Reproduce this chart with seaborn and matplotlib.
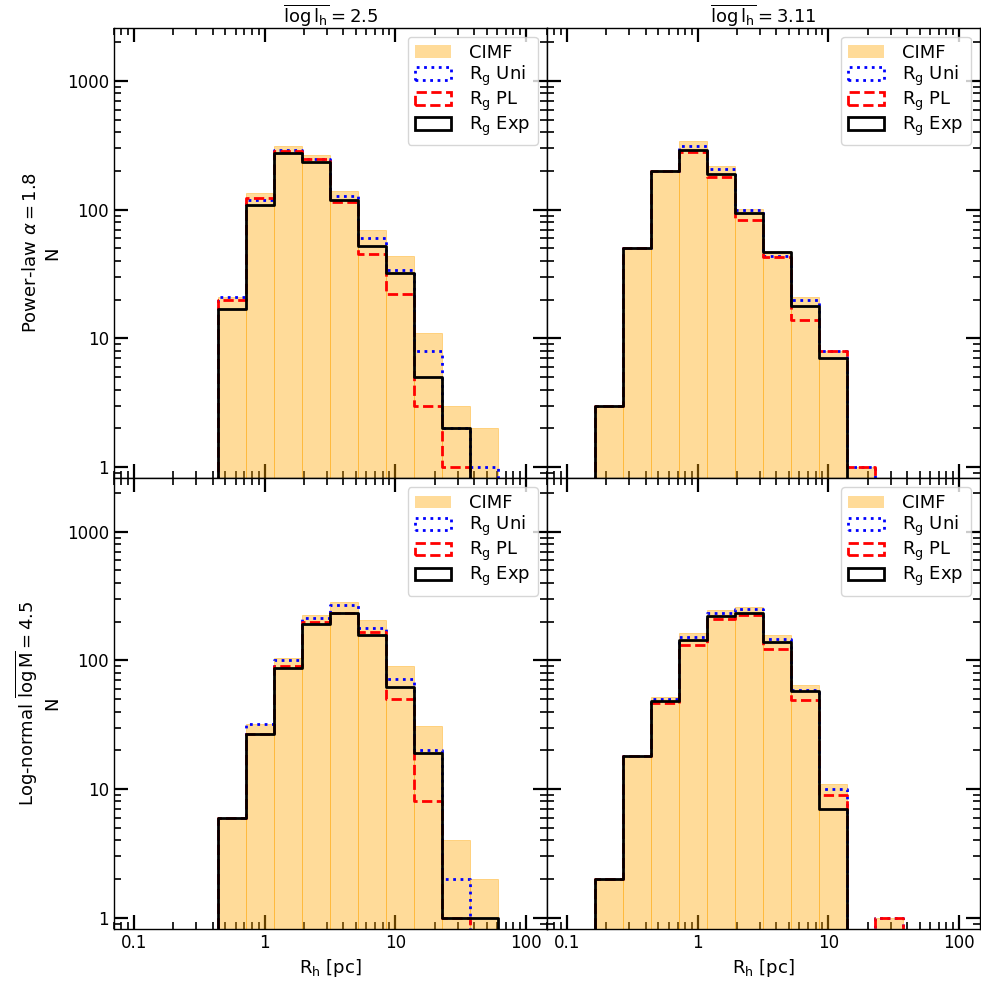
import numpy as np
import pandas as pd
import matplotlib
matplotlib.use("Agg")
import matplotlib.pyplot as plt
from matplotlib.patches import Patch
from matplotlib.ticker import FuncFormatter, NullFormatter
import seaborn as sns

# log10 bin range of R_h [pc], 14 equal bins in log space
log_range = (-1, 2)
n_bins = 14
bin_edges = np.logspace(log_range[0], log_range[1], n_bins + 1)
bin_centers = np.sqrt(bin_edges[:-1] * bin_edges[1:])

col_titles = [r"$\overline{\mathrm{log\,l_h}} = 2.5$", r"$\overline{\mathrm{log\,l_h}} = 3.11$"]
row_labels = ["Power-law $\\alpha = 1.8$\nN", "Log-normal $\\overline{\\mathrm{log\\,M}} = 4.5$\nN"]
series_labels = ["CIMF", r"R$_\mathrm{g}$ Uni", r"R$_\mathrm{g}$ PL", r"R$_\mathrm{g}$ Exp"]

# counts per bin
pl25_cimf = [0, 0, 0, 21, 134, 312, 267, 139, 69, 44, 11, 3, 2, 0]
pl25_uni = [0, 0, 0, 21, 120, 290, 247, 128, 60, 34, 8, 2, 1, 0]
pl25_pl = [0, 0, 0, 20, 123, 287, 247, 114, 45, 22, 3, 1, 0, 0]
pl25_exp = [0, 0, 0, 17, 109, 277, 233, 119, 52, 32, 5, 2, 0, 0]

pl311_cimf = [0, 3, 50, 203, 343, 217, 101, 48, 21, 8, 1, 0, 0, 0]
pl311_uni = [0, 3, 50, 200, 310, 209, 99, 44, 20, 8, 1, 0, 0, 0]
pl311_pl = [0, 3, 50, 200, 282, 180, 83, 43, 14, 8, 1, 0, 0, 0]
pl311_exp = [0, 3, 50, 200, 290, 191, 95, 47, 18, 7, 0, 0, 0, 0]

ln25_cimf = [0, 0, 0, 6, 32, 104, 226, 283, 207, 91, 31, 4, 2, 0]
ln25_uni = [0, 0, 0, 6, 32, 101, 213, 270, 178, 71, 20, 2, 0, 0]
ln25_pl = [0, 0, 0, 6, 27, 91, 200, 233, 165, 50, 8, 1, 0, 0]
ln25_exp = [0, 0, 0, 6, 27, 87, 191, 233, 156, 62, 19, 1, 1, 0]

ln311_cimf = [0, 2, 18, 52, 164, 247, 258, 156, 64, 11, 0, 1, 0, 0]
ln311_uni = [0, 2, 18, 50, 151, 233, 252, 147, 59, 10, 0, 1, 0, 0]
ln311_pl = [0, 2, 18, 47, 132, 209, 223, 123, 49, 9, 0, 1, 0, 0]
ln311_exp = [0, 2, 18, 48, 144, 222, 233, 140, 58, 7, 0, 0, 0, 0]

panels = [
    [(pl25_cimf, pl25_uni, pl25_pl, pl25_exp), (pl311_cimf, pl311_uni, pl311_pl, pl311_exp)],
    [(ln25_cimf, ln25_uni, ln25_pl, ln25_exp), (ln311_cimf, ln311_uni, ln311_pl, ln311_exp)],
]

line_styles = [("blue", ":"), ("red", "--"), ("black", "-")]
fill_face = (1.0, 0.647, 0.0, 0.4)
fill_edge = (1.0, 0.647, 0.0, 0.45)

sns.set_style("ticks")
plt.rcParams["font.family"] = ["DejaVu Sans"]
plt.rcParams.update({"text.color": "black", "axes.labelcolor": "black",
                     "xtick.color": "black", "ytick.color": "black",
                     "axes.edgecolor": "black"})

fig, axes = plt.subplots(2, 2, figsize=(9.81, 9.86), dpi=100, sharex=True, sharey=True)
plt.subplots_adjust(left=0.116, right=0.999, top=0.972, bottom=0.058, wspace=0, hspace=0)

fmt = FuncFormatter(lambda v, p: f"{v:g}")

for i in range(2):
    for j in range(2):
        ax = axes[i, j]
        cimf, uni, pl, exp = panels[i][j]
        df = pd.DataFrame({"R_h": bin_centers, "CIMF": cimf, "Uni": uni, "PL": pl, "Exp": exp})

        sns.histplot(data=df, x="R_h", weights="CIMF", bins=n_bins, binrange=log_range,
                     log_scale=True, element="bars", facecolor=fill_face,
                     edgecolor=fill_edge, linewidth=0.6, ax=ax)
        for name, (c, ls) in zip(["Uni", "PL", "Exp"], line_styles):
            sns.histplot(data=df, x="R_h", weights=name, bins=n_bins, binrange=log_range,
                         log_scale=True, element="step", fill=False, color=c,
                         linestyle=ls, linewidth=2, ax=ax)

        ax.set_yscale("log")
        ax.set_xlim(0.07, 145)
        ax.set_ylim(0.82, 2600)
        ax.xaxis.set_major_formatter(fmt)
        ax.yaxis.set_major_formatter(fmt)
        ax.xaxis.set_minor_formatter(NullFormatter())
        ax.yaxis.set_minor_formatter(NullFormatter())
        ax.tick_params(which="both", direction="in", top=True, right=True, labelsize=12)
        ax.tick_params(which="major", length=10, width=1.6)
        ax.tick_params(which="minor", length=5, width=1.2)
        for sp in ax.spines.values():
            sp.set_linewidth(1.0)

        ax.set_xlabel(r"R$_\mathrm{h}$ [pc]" if i == 1 else "", fontsize=13)
        ax.set_ylabel(row_labels[i] if j == 0 else "", fontsize=13)
        if i == 0:
            ax.set_title(col_titles[j], fontsize=13, pad=3)

        handles = [Patch(facecolor=fill_face, edgecolor="none", label=series_labels[0])]
        for lab, (c, ls) in zip(series_labels[1:], line_styles):
            handles.append(Patch(facecolor="none", edgecolor=c, linestyle=ls, linewidth=2, label=lab))
        ax.legend(handles=handles, loc="upper right", fontsize=13,
                  labelspacing=0.1, handletextpad=1.0)

fig.savefig("out.png", dpi=100)
